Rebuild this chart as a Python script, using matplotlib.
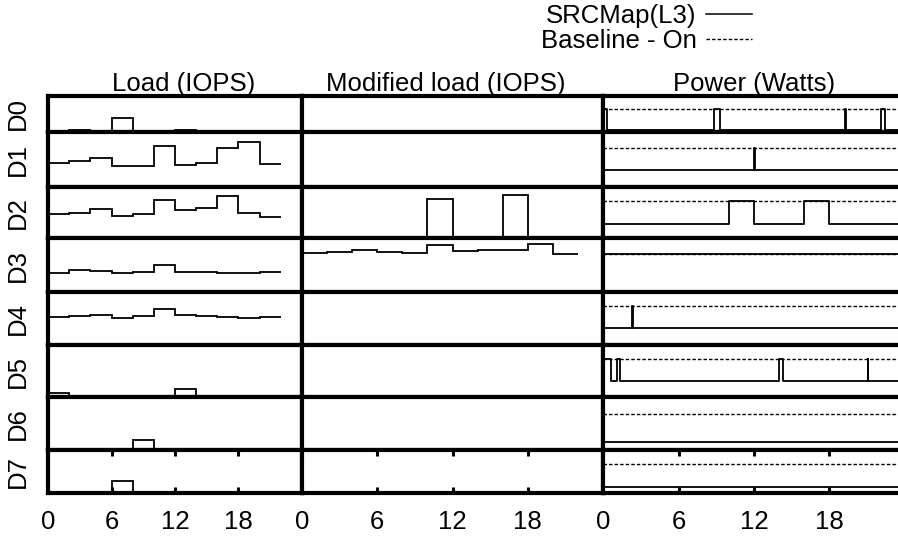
import matplotlib.pyplot as plt
from matplotlib.lines import Line2D

plt.rcParams['font.family'] = ['Liberation Sans', 'DejaVu Sans']

# x axis: hours of the day, load sampled in 2 hour slots
hours = [0, 2, 4, 6, 8, 10, 12, 14, 16, 18, 20, 22]
xticks = [0, 6, 12, 18]
disks = ['D0', 'D1', 'D2', 'D3', 'D4', 'D5', 'D6', 'D7']
col_titles = ['Load (IOPS)', 'Modified load (IOPS)', 'Power (Watts)']

# original load per disk (arbitrary units)
load_d0 = [0.5, 1.5, 0.5, 14, 0.5, 0.5, 1.5, 0.5, 0.8, 0.5, 0.3]
load_d1 = [23.7, 26.3, 28.7, 21, 21, 41.3, 22, 23.7, 38.7, 44.7, 23]
load_d2 = [23.7, 25.3, 28.7, 22, 24.3, 38, 27.7, 30.3, 42, 25.3, 21]
load_d3 = [19.3, 22, 21, 19.3, 19.7, 27, 20, 19.7, 19.3, 19.3, 19.7]
load_d4 = [27.7, 29.3, 30, 27.3, 29, 35.7, 30, 29, 27.7, 27.3, 28.3]
load_d5 = [4, 0.5, 1, 0.7, 1, 0.5, 7.7, 1, 0.3, 0.3, 0.3]
load_d6 = [0, 0, 0, 0, 10, 0, 0, 0, 0, 0, 0]
load_d7 = [0, 0, 0, 12, 0, 0, 0, 0, 0, 0, 0]

# load after SRCMap remapping
mod_d0 = [0] * 11
mod_d1 = [0] * 11
mod_d2 = [0, 0, 0, 0, 0, 39.4, 0, 0, 43.3, 0, 0]
mod_d3 = [39, 40.4, 41.7, 40.4, 39, 47, 41, 41.7, 42.4, 47.7, 38.4]
mod_d4 = [0] * 11
mod_d5 = [0] * 11
mod_d6 = [0] * 11
mod_d7 = [0] * 11

# power: level when on / level when spun down, and the hours the disk was on
power_on = [23.4, 39.4, 36.7, 38.4, 39.0, 38.4, 36.0, 29.3]
power_off = [2.4, 16.7, 14.0, 38.4, 16.7, 16.0, 8.3, 6.0]
on_d0 = [(0, 0.29), (8.82, 9.27), (19.24, 19.28), (22.07, 22.42)]
on_d1 = [(12.0, 12.04)]
on_d2 = [(10, 12), (16, 18)]
on_d3 = [(0, 24)]
on_d4 = [(2.33, 2.37)]
on_d5 = [(0, 0.64), (1.09, 1.35), (14.0, 14.33), (21.04, 21.08)]
on_d6 = []
on_d7 = []

loads = [load_d0, load_d1, load_d2, load_d3, load_d4, load_d5, load_d6, load_d7]
mods = [mod_d0, mod_d1, mod_d2, mod_d3, mod_d4, mod_d5, mod_d6, mod_d7]
ons = [on_d0, on_d1, on_d2, on_d3, on_d4, on_d5, on_d6, on_d7]


def power_steps(intervals, on, off):
    t = [0.0]
    p = [off]
    for a, b in intervals:
        if a <= 0:
            p[0] = on
        else:
            t.append(a)
            p.append(on)
        t.append(b)
        p.append(off)
    t.append(24)
    p.append(p[-1])
    return t, p


W, H = 898, 536
# layout in pixels (rows are not all the same height in the original)
row_edges = [96, 132, 187, 238, 292, 345, 397, 450, 493]
col_edges = [48, 302, 603, 905]
title_x = [0.535, 0.478, 0.5]
FS = 18.5

fig = plt.figure(figsize=(W / 100, H / 100), dpi=100)

for r in range(8):
    top, bot = row_edges[r], row_edges[r + 1]
    for c in range(3):
        left, right = col_edges[c], col_edges[c + 1]
        ax = fig.add_axes([left / W, 1 - bot / H, (right - left) / W, (bot - top) / H])
        ax.set_xlim(0, 24)
        ax.set_ylim(0, bot - top)
        for s in ax.spines.values():
            s.set_linewidth(3)
        ax.set_yticks([])

        if c == 0:
            ax.stairs(loads[r], hours, baseline=None, color='black', lw=1.3)
        elif c == 1:
            ax.stairs(mods[r], hours, baseline=None, color='black', lw=1.3)
        else:
            ax.plot([0, 24], [power_on[r]] * 2, color='black', lw=1.0,
                    ls=(0, (2.5, 1.5)))
            t, p = power_steps(ons[r], power_on[r], power_off[r])
            ax.step(t, p, where='post', color='black', lw=1.3)

        if r == 7:
            ax.set_xticks(xticks)
            ax.tick_params(axis='x', direction='in', top=True, bottom=True,
                           length=4.5, width=2.2, pad=12, labelsize=FS)
        else:
            ax.set_xticks([])

        if r == 0:
            ax.set_title(col_titles[c], fontsize=FS, pad=3, x=title_x[c])

    fig.text(18 / W, 1 - (top + bot) / 2 / H, disks[r], rotation=90,
             ha='center', va='center', fontsize=FS)

handles = [Line2D([], [], color='black', lw=1.1),
           Line2D([], [], color='black', lw=1.0, ls=(0, (2.5, 1.5)))]
fig.legend(handles, ['SRCMap(L3)', 'Baseline - On'], loc='upper right',
           bbox_to_anchor=(752 / W, 1 - 4 / H), frameon=False, markerfirst=False,
           handlelength=1.8, handletextpad=0.35, labelspacing=0.05,
           borderpad=0, borderaxespad=0, fontsize=FS)

fig.savefig('out.png', dpi=100)
